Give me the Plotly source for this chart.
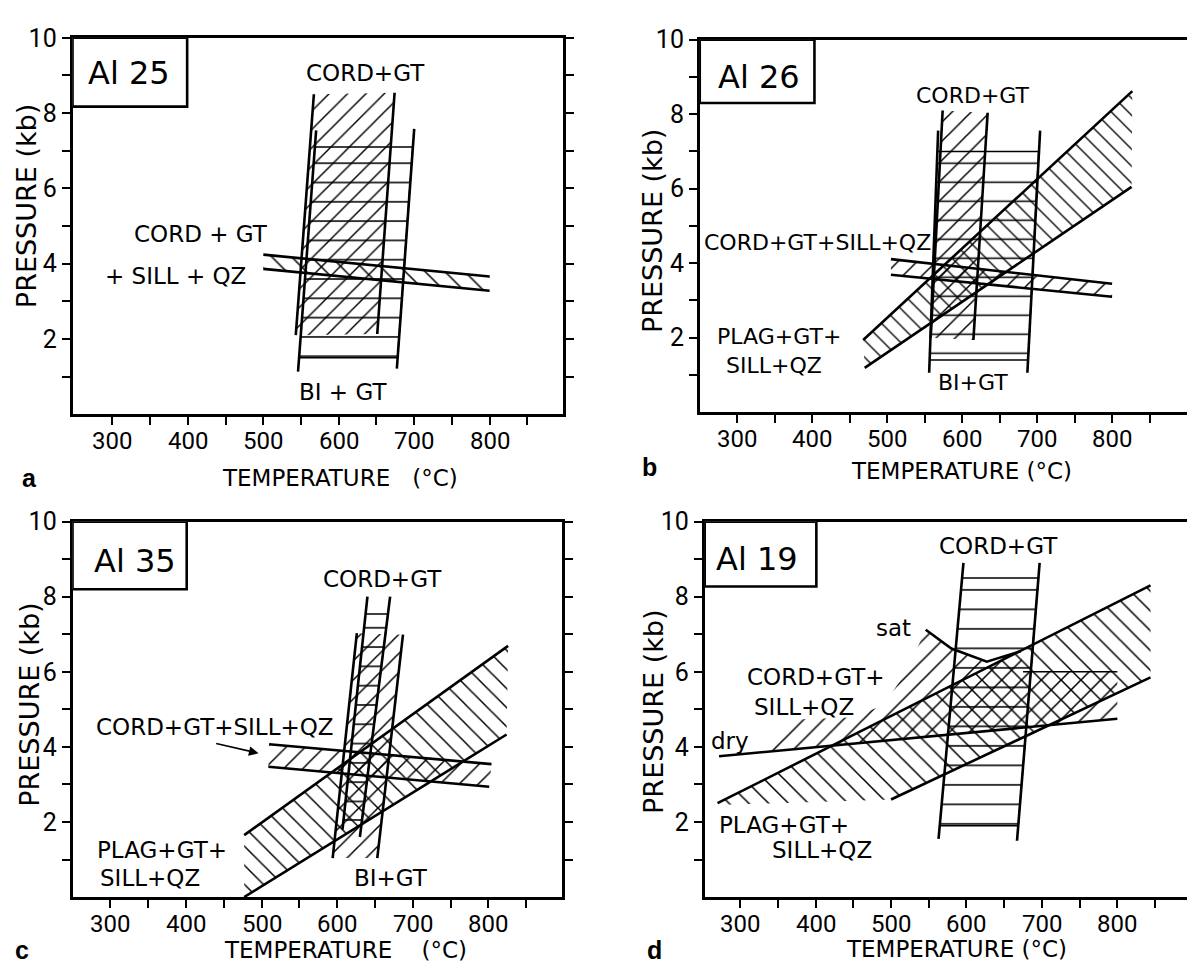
import plotly.graph_objects as go

W, H = 1195, 962

# ---------------- axis ticks ----------------
T_TICKS = [300, 350, 400, 450, 500, 550, 600, 650, 700, 750, 800, 850]
T_TICK_TEXT = ["300", "", "400", "", "500", "", "600", "", "700", "", "800", ""]
P_TICKS = [1, 2, 3, 4, 5, 6, 7, 8, 9, 10]
P_TICK_TEXT = ["", "2", "", "4", "", "6", "", "8", "", "10"]

SAMPLES = ["Al 25", "Al 26", "Al 35", "Al 19"]
LETTERS = ["a", "b", "c", "d"]

# ---------------- panel a : Al 25 ----------------
a_cordgt_T = [567, 674, 651, 543]
a_cordgt_P = [8.50, 8.54, 2.13, 2.10]
a_cordgt_left_T, a_cordgt_left_P = [567, 543], [8.50, 2.10]
a_cordgt_right_T, a_cordgt_right_P = [674, 651], [8.54, 2.13]
a_bigt_T = [568, 698, 678, 547]
a_bigt_P = [7.10, 7.10, 1.50, 1.50]
a_bigt_left_T, a_bigt_left_P = [570, 546], [7.54, 1.13]
a_bigt_right_T, a_bigt_right_P = [700, 677], [7.58, 1.21]
a_sill_T = [500, 800, 800, 500]
a_sill_P = [4.24, 3.66, 3.28, 3.86]
a_sill_top_T, a_sill_top_P = [500, 800], [4.24, 3.66]
a_sill_bot_T, a_sill_bot_P = [500, 800], [3.86, 3.28]
a_label_text = ["CORD+GT", "CORD + GT", "+ SILL + QZ", "BI + GT"]
a_label_T = [635, 418, 384, 605]
a_label_P = [9.06, 4.79, 3.66, 0.60]

# ---------------- panel b : Al 26 ----------------
b_cordgt_T = [574, 634, 615, 558]
b_cordgt_P = [8.10, 8.04, 1.94, 2.00]
b_cordgt_left_T, b_cordgt_left_P = [574, 558], [8.10, 2.00]
b_cordgt_right_T, b_cordgt_right_P = [634, 615], [8.04, 1.94]
b_bigt_T = [567, 702, 688, 557]
b_bigt_P = [7.00, 7.00, 1.40, 1.40]
b_bigt_left_T, b_bigt_left_P = [568, 556], [7.56, 1.06]
b_bigt_right_T, b_bigt_right_P = [704, 687], [7.56, 1.06]
b_plag_T = [468, 827, 826, 470]
b_plag_P = [1.94, 8.62, 6.05, 1.19]
b_plag_up_T, b_plag_up_P = [468, 827], [1.94, 8.62]
b_plag_lo_T, b_plag_lo_P = [470, 826], [1.19, 6.05]
b_sill_T = [505, 800, 800, 505]
b_sill_P = [4.11, 3.45, 3.10, 3.69]
b_sill_top_T, b_sill_top_P = [505, 800], [4.11, 3.45]
b_sill_bot_T, b_sill_bot_P = [505, 800], [3.69, 3.10]
b_label_text = ["CORD+GT", "CORD+GT+SILL+QZ", "PLAG+GT+", "SILL+QZ", "BI+GT"]
b_label_T = [615, 407, 356, 349, 614]
b_label_P = [8.50, 4.56, 2.04, 1.25, 0.80]

# ---------------- panel c : Al 35 ----------------
c_cordgt_T = [637.6, 667.1, 632.8, 608.3]
c_cordgt_P = [7.54, 7.54, 2.05, 2.05]
c_cordgt_left_T, c_cordgt_left_P = [640, 607], [8.00, 1.80]
c_cordgt_right_T, c_cordgt_right_P = [670, 630], [8.00, 1.60]
c_bigt_T = [626, 687, 653, 594]
c_bigt_P = [7.03, 6.99, 1.04, 1.04]
c_bigt_left_T, c_bigt_left_P = [626, 594], [7.03, 1.04]
c_bigt_right_T, c_bigt_right_P = [687, 653], [6.99, 1.04]
c_plag_T = [477, 826, 824, 477]
c_plag_P = [1.65, 6.69, 4.33, 0.00]
c_plag_up_T, c_plag_up_P = [477, 826], [1.65, 6.69]
c_plag_lo_T, c_plag_lo_P = [477, 824], [0.00, 4.33]
c_sill_T = [510, 804, 801, 509]
c_sill_P = [4.07, 3.54, 2.94, 3.47]
c_sill_top_T, c_sill_top_P = [510, 804], [4.07, 3.54]
c_sill_bot_T, c_sill_bot_P = [509, 801], [3.47, 2.94]
c_label_text = ["CORD+GT", "CORD+GT+SILL+QZ", "PLAG+GT+", "SILL+QZ", "BI+GT"]
c_label_T = [660, 438, 368, 352, 671]
c_label_P = [8.48, 4.54, 1.26, 0.52, 0.52]
c_arrow_T = [438, 496]
c_arrow_P = [4.10, 3.83]

# ---------------- panel d : Al 19 ----------------
d_cordgt_T = [594.2, 695.4, 668.6, 564.6]
d_cordgt_P = [8.50, 8.50, 1.90, 1.90]
d_cordgt_left_T, d_cordgt_left_P = [596, 563], [8.90, 1.55]
d_cordgt_right_T, d_cordgt_right_P = [697, 667], [8.90, 1.50]
d_plag_T = [270, 844, 844, 500, 270]
d_plag_P = [2.50, 8.30, 5.85, 2.60, 2.45]
d_plag_up_T, d_plag_up_P = [270, 844], [2.50, 8.30]
d_plag_lo_T, d_plag_lo_P = [500, 844], [2.60, 5.85]
d_sat_T = [335, 365, 445, 490, 520, 546, 580, 627, 672, 675, 800, 800, 335]
d_sat_P = [3.87, 4.72, 4.78, 5.10, 6.00, 7.12, 6.62, 6.27, 6.55, 6.00, 6.00, 4.75, 3.87]
d_dry_T, d_dry_P = [272, 800], [3.75, 4.75]
d_satline_T, d_satline_P = [546, 580, 627, 672], [7.12, 6.62, 6.27, 6.55]
d_sattop_T, d_sattop_P = [675, 800], [6.00, 6.00]
d_label_text = ["CORD+GT", "sat", "CORD+GT+", "SILL+QZ", "dry", "PLAG+GT+", "SILL+QZ"]
d_label_T = [642, 503, 400, 384, 286, 358, 409]
d_label_P = [9.35, 7.17, 5.85, 5.07, 4.15, 1.92, 1.26]

# ---------------- layout geometry (pixels) ----------------
PANEL_PX = [  # left, right, top, bottom
    (65, 559, 16, 398),
    (697, 1188, 18, 396),
    (65, 558, 507, 888),
    (702, 1193, 507, 888),
]
X_RANGES = [[247, 897], [250, 900], [250, 897], [253, 899]]
BOX_RIGHT = [399, 403, 401, 401]
BOX_BOTTOM = [8.17, 8.30, 8.20, 8.27]
SAMPLE_POS = [(322, 9.06), (329, 9.00), (333, 8.95), (322, 9.00)]
XTICKLABEL_GAP = 27
XTITLE_PX = [(335, 463), (961, 456), (340, 942), (956, 941)]
YTITLE_PX = [(18, 187), (650, 212), (22, 693), (651, 700)]
LETTER_PX = [(22, 463), (646, 452), (14, 942), (651, 942)]
XTITLES = ["TEMPERATURE\u00a0\u00a0 (°C)", "TEMPERATURE (°C)",
           "TEMPERATURE\u00a0\u00a0\u00a0 (°C)", "TEMPERATURE (°C)"]
LABEL_SIZE = [23, 22, 23, 23]
DIAG = 13.5     # pattern tile for diagonal hatching
DIAG_SOL = 0.11

FONT = "DejaVu Sans"
fig = go.Figure()


def axn(i):
    return "" if i == 0 else str(i + 1)


def hatch(T, P, shape, i, size=DIAG, sol=DIAG_SOL, outline=0.0):
    fig.add_trace(go.Scatter(
        x=T, y=P, mode="lines", fill="toself", fillcolor="rgba(0,0,0,0)",
        fillpattern=dict(shape=shape, size=size, solidity=sol, fgcolor="black",
                         bgcolor="rgba(0,0,0,0)", fillmode="replace"),
        line=dict(width=outline, color="black"),
        xaxis="x" + axn(i), yaxis="y" + axn(i), hoverinfo="skip", showlegend=False))


def line(T, P, i, w=2.6):
    fig.add_trace(go.Scatter(
        x=T, y=P, mode="lines", line=dict(width=w, color="black"),
        xaxis="x" + axn(i), yaxis="y" + axn(i), hoverinfo="skip", showlegend=False))


# panel a
hatch(a_cordgt_T, a_cordgt_P, "/", 0, size=13)
hatch(a_bigt_T, a_bigt_P, "-", 0, size=19.3, sol=0.08, outline=1.5)
hatch(a_sill_T, a_sill_P, "\\", 0, size=14)
for T, P in [(a_cordgt_left_T, a_cordgt_left_P), (a_cordgt_right_T, a_cordgt_right_P),
             (a_bigt_left_T, a_bigt_left_P), (a_bigt_right_T, a_bigt_right_P),
             (a_sill_top_T, a_sill_top_P), (a_sill_bot_T, a_sill_bot_P)]:
    line(T, P, 0)

# panel b
hatch(b_cordgt_T, b_cordgt_P, "/", 1)
hatch(b_bigt_T, b_bigt_P, "-", 1, size=19, sol=0.08, outline=1.5)
hatch(b_plag_T, b_plag_P, "\\", 1, size=12)
hatch(b_sill_T, b_sill_P, "/", 1)
for T, P in [(b_cordgt_left_T, b_cordgt_left_P), (b_cordgt_right_T, b_cordgt_right_P),
             (b_bigt_left_T, b_bigt_left_P), (b_bigt_right_T, b_bigt_right_P),
             (b_plag_up_T, b_plag_up_P), (b_plag_lo_T, b_plag_lo_P),
             (b_sill_top_T, b_sill_top_P), (b_sill_bot_T, b_sill_bot_P)]:
    line(T, P, 1)

# panel c
hatch(c_cordgt_T, c_cordgt_P, "-", 2, size=19.3, sol=0.08, outline=1.5)
hatch(c_bigt_T, c_bigt_P, "/", 2)
hatch(c_plag_T, c_plag_P, "\\", 2)
hatch(c_sill_T, c_sill_P, "/", 2)
for T, P in [(c_cordgt_left_T, c_cordgt_left_P), (c_cordgt_right_T, c_cordgt_right_P),
             (c_bigt_left_T, c_bigt_left_P), (c_bigt_right_T, c_bigt_right_P),
             (c_plag_up_T, c_plag_up_P), (c_plag_lo_T, c_plag_lo_P),
             (c_sill_top_T, c_sill_top_P), (c_sill_bot_T, c_sill_bot_P)]:
    line(T, P, 2)

# panel d
hatch(d_cordgt_T, d_cordgt_P, "-", 3, size=19.5, sol=0.08, outline=1.5)
hatch(d_plag_T, d_plag_P, "\\", 3, size=14)
hatch(d_sat_T, d_sat_P, "/", 3, size=14)
for T, P in [(d_cordgt_left_T, d_cordgt_left_P), (d_cordgt_right_T, d_cordgt_right_P),
             (d_plag_up_T, d_plag_up_P), (d_plag_lo_T, d_plag_lo_P),
             (d_dry_T, d_dry_P), (d_satline_T, d_satline_P)]:
    line(T, P, 3)
line(d_sattop_T, d_sattop_P, 3, w=1.6)

annotations = []
shapes = []
layout = dict(width=W, height=H, margin=dict(l=0, r=0, t=0, b=0),
              paper_bgcolor="white", plot_bgcolor="white", showlegend=False)

for i in range(4):
    l, r, t, b = PANEL_PX[i]
    n = axn(i)
    layout["xaxis" + n] = dict(
        domain=[l / W, r / W], range=X_RANGES[i], anchor="y" + n,
        tickmode="array", tickvals=T_TICKS, showticklabels=False,
        showgrid=False, zeroline=False, showline=True, mirror=True,
        linecolor="black", linewidth=2.6, ticks="outside", ticklen=8,
        tickwidth=2.4, tickcolor="black", fixedrange=True)
    layout["yaxis" + n] = dict(
        domain=[1 - b / H, 1 - t / H], range=[0, 10], anchor="x" + n,
        tickmode="array", tickvals=P_TICKS, ticktext=P_TICK_TEXT,
        showgrid=False, zeroline=False, showline=True, mirror="ticks",
        linecolor="black", linewidth=2.6, ticks="outside", ticklen=8,
        tickwidth=2.4, tickcolor="black",
        tickfont=dict(family="Roboto", size=25, color="black"), fixedrange=True)
    # x tick labels (temperature)
    for tv, tt in zip(T_TICKS, T_TICK_TEXT):
        if tt:
            annotations.append(dict(x=tv, y=1 - (b + XTICKLABEL_GAP) / H, xref="x" + n,
                                    yref="paper", text=tt, showarrow=False,
                                    xanchor="center", yanchor="middle",
                                    font=dict(family="Roboto", size=24, color="black")))
    # sample box
    shapes.append(dict(type="rect", xref="x" + n, yref="y" + n,
                       x0=X_RANGES[i][0], x1=BOX_RIGHT[i], y0=BOX_BOTTOM[i], y1=10,
                       line=dict(color="black", width=2.6), fillcolor="white", layer="above"))
    annotations.append(dict(x=SAMPLE_POS[i][0], y=SAMPLE_POS[i][1], xref="x" + n, yref="y" + n,
                            text=SAMPLES[i], showarrow=False,
                            font=dict(family=FONT, size=32, color="black")))
    # axis titles & letters
    xt = XTITLE_PX[i]
    annotations.append(dict(x=xt[0] / W, y=1 - xt[1] / H, xref="paper", yref="paper",
                            text=XTITLES[i], showarrow=False, xanchor="center", yanchor="middle",
                            font=dict(family=FONT, size=23, color="black")))
    yt = YTITLE_PX[i]
    annotations.append(dict(x=yt[0] / W, y=1 - yt[1] / H, xref="paper", yref="paper",
                            text="PRESSURE (kb)", showarrow=False, textangle=-90,
                            xanchor="center", yanchor="middle",
                            font=dict(family=FONT, size=27, color="black")))
    lt = LETTER_PX[i]
    annotations.append(dict(x=lt[0] / W, y=1 - lt[1] / H, xref="paper", yref="paper",
                            text="<b>" + LETTERS[i] + "</b>", showarrow=False,
                            xanchor="center", yanchor="middle",
                            font=dict(family="Liberation Sans", size=25, color="black")))

label_sets = [(a_label_text, a_label_T, a_label_P), (b_label_text, b_label_T, b_label_P),
              (c_label_text, c_label_T, c_label_P), (d_label_text, d_label_T, d_label_P)]
for i, (txt, Ts, Ps) in enumerate(label_sets):
    n = axn(i)
    for s, x, y in zip(txt, Ts, Ps):
        annotations.append(dict(x=x, y=y, xref="x" + n, yref="y" + n, text=s, showarrow=False,
                                xanchor="center", yanchor="middle",
                                font=dict(family=FONT, size=LABEL_SIZE[i], color="black")))

# arrow in panel c
annotations.append(dict(x=c_arrow_T[1], y=c_arrow_P[1], ax=c_arrow_T[0], ay=c_arrow_P[0],
                        xref="x3", yref="y3", axref="x3", ayref="y3", text="",
                        showarrow=True, arrowhead=2, arrowsize=1.2, arrowwidth=1.6,
                        arrowcolor="black"))

layout["annotations"] = annotations
layout["shapes"] = shapes
fig.update_layout(**layout)
fig.write_html("out.html")
